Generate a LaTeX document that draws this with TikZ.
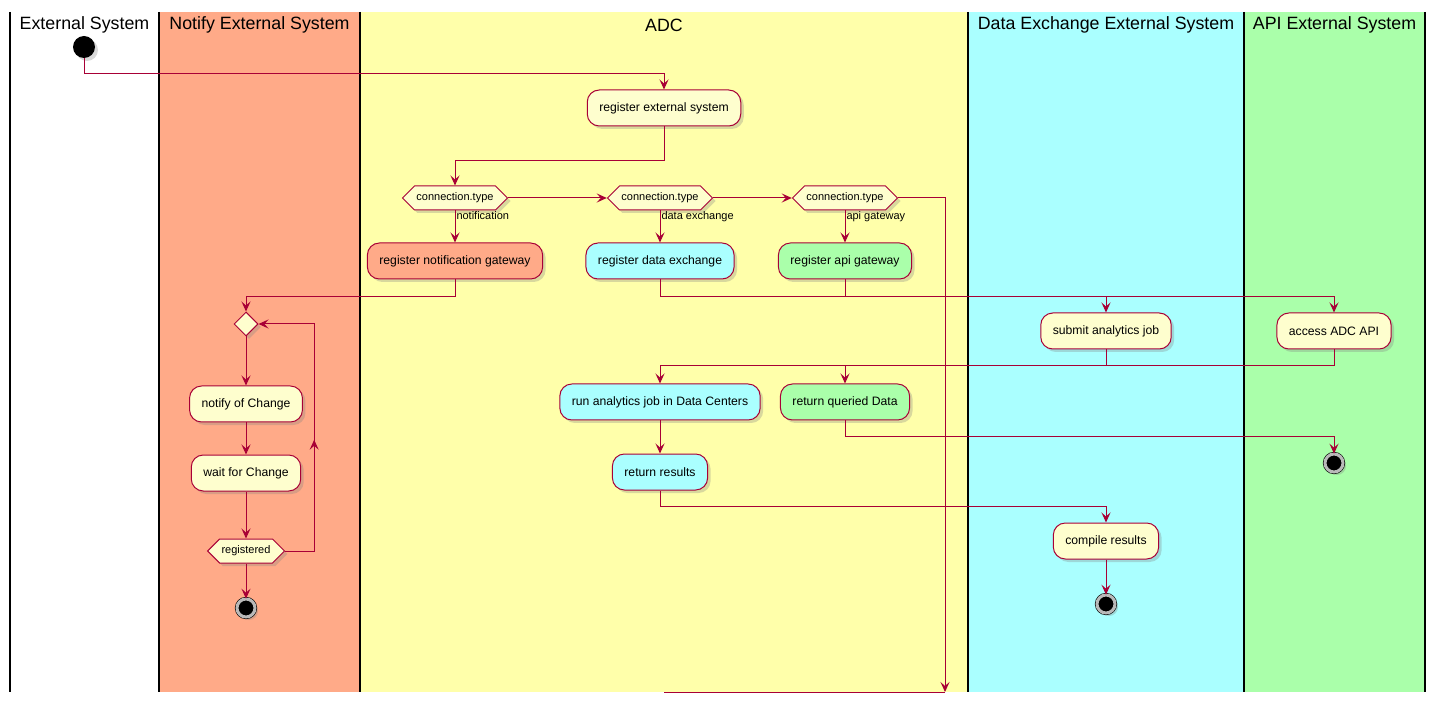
\documentclass[tikz,border=0pt]{standalone}
\usepackage{fontspec}
\setmainfont{Liberation Sans}
\usetikzlibrary{arrows.meta,shapes.geometric,shapes.symbols,shadows,decorations.markings}
\definecolor{umlred}{HTML}{A80036}
\definecolor{umlnode}{HTML}{FEFECE}
\definecolor{lanenotify}{HTML}{FFAA88}
\definecolor{laneadc}{HTML}{FFFFAA}
\definecolor{lanedx}{HTML}{AAFFFF}
\definecolor{laneapi}{HTML}{AAFFAA}

\begin{document}
\begin{tikzpicture}[
  x=1pt, y=-1pt,
  umlshadow/.style={drop shadow={shadow xshift=3pt, shadow yshift=-3pt, opacity=0.3}},
  action/.style={rectangle, rounded corners=12pt, draw=umlred, fill=umlnode, line width=1pt,
    minimum height=36pt, inner xsep=12pt, font=\fontsize{12.2}{14}\selectfont, umlshadow},
  choice/.style={shape=signal, signal to=west and east, signal pointer angle=90, draw=umlred,
    fill=umlnode, line width=1pt, minimum height=24pt, inner xsep=2pt, inner ysep=2pt,
    font=\fontsize{11}{12}\selectfont, umlshadow},
  merge/.style={diamond, draw=umlred, fill=umlnode, line width=1pt, minimum size=24pt,
    inner sep=0pt, umlshadow},
  startnode/.style={circle, fill=black, minimum size=22pt, inner sep=0pt, umlshadow},
  stopnode/.style={circle, draw=black, line width=0.6pt, fill=black, double=gray!55,
    double distance=3pt, minimum size=18pt, inner sep=0pt, umlshadow},
  lanetitle/.style={font=\fontsize{17.8}{20}\selectfont},
  guard/.style={font=\fontsize{11}{12}\selectfont, anchor=north west, inner sep=1pt},
  link/.style={draw=umlred, line width=1pt},
  flow/.style={link, -{Stealth[length=10pt, width=9pt, inset=4pt]}}
]
  \useasboundingbox (0,0) rectangle (1436,703);

  %% Swimlanes
  \fill[lanenotify] (159,12) rectangle (360,692);
  \fill[laneadc] (360,12) rectangle (968,692);
  \fill[lanedx] (968,12) rectangle (1244,692);
  \fill[laneapi] (1244,12) rectangle (1425,692);
  \foreach \lx in {10,159,360,968,1244,1425}
    \draw[line width=2pt] (\lx,12) -- (\lx,692);

  \node[lanetitle] (hext) at (84.5,25) {External System};
  \node[lanetitle] (hnotify) at (259.5,25) {Notify External System};
  \node[lanetitle] (hadc) at (664,25) {ADC};
  \node[lanetitle] (hdx) at (1106,25) {Data Exchange External System};
  \node[lanetitle] (hapi) at (1334.5,25) {API External System};

  %% Nodes
  \node[startnode] (start) at (84,47) {};
  \node[action] (reg) at (664,108) {register external system};

  \node[choice] (typen) at (455,198) {connection.type};
  \node[choice] (typed) at (660,198) {connection.type};
  \node[choice] (typea) at (845,198) {connection.type};
  \coordinate (adcend) at (945,692);
  \coordinate (adcjoin) at (664,692);

  \node[action, fill=lanenotify] (regnotify) at (455,261) {register notification gateway};
  \node[action, fill=lanedx] (regdx) at (660,261) {register data exchange};
  \node[action, fill=laneapi] (regapi) at (845,261) {register api gateway};

  \node[merge] (loop) at (246,324) {};
  \node[action] (notify) at (246,404) {notify of Change};
  \node[action] (wait) at (246,473) {wait for Change};
  \node[choice] (registered) at (246,551) {registered};
  \node[stopnode] (stopnotify) at (246,608) {};

  \node[action] (submit) at (1106,331) {submit analytics job};
  \node[action] (access) at (1334,331) {access ADC API};

  \node[action, fill=lanedx] (runjob) at (660,402) {run analytics job in Data Centers};
  \node[action, fill=laneapi] (query) at (845,402) {return queried Data};
  \node[action, fill=lanedx] (results) at (660,472) {return results};
  \node[stopnode] (stopapi) at (1334,463) {};

  \node[action] (compile) at (1106,541) {compile results};
  \node[stopnode] (stopdx) at (1106,604) {};

  %% Edges
  \draw[flow] (start.south) -- ++(0,15) -| (reg.north);
  \draw[flow] (reg.south) -- ++(0,34) -| (typen.north);
  \draw[flow] (typen.east) -- (typed.west);
  \draw[flow] (typed.east) -- (typea.west);
  \draw[flow] (typea.east) -| (adcend);
  \draw[link] (adcjoin) -- (adcend);

  \draw[flow] (typen.south) -- node[guard, pos=0] {notification} (regnotify.north);
  \draw[flow] (typed.south) -- node[guard, pos=0] {data exchange} (regdx.north);
  \draw[flow] (typea.south) -- node[guard, pos=0] {api gateway} (regapi.north);

  \draw[flow] (regnotify.south) -- ++(0,17) -| (loop.north);
  \draw[flow] (loop.south) -- (notify.north);
  \draw[flow] (notify.south) -- (wait.north);
  \draw[flow] (wait.south) -- (registered.north);
  \draw[flow, postaction={decorate, decoration={markings,
      mark=at position 0.45 with {\arrow{Stealth[length=10pt, width=9pt, inset=4pt]}}}}]
    (registered.east) -- ++(29,0) |- (loop.east);
  \draw[flow] (registered.south) -- (stopnotify.north);

  \draw[flow] (regdx.south) -- ++(0,17) -| (submit.north);
  \draw[flow] (regapi.south) -- ++(0,17) -| (access.north);
  \draw[flow] (submit.south) -- ++(0,16) -| (runjob.north);
  \draw[flow] (access.south) -- ++(0,16) -| (query.north);
  \draw[flow] (runjob.south) -- (results.north);
  \draw[flow] (results.south) -- ++(0,16) -| (compile.north);
  \draw[flow] (query.south) -- ++(0,16) -| (stopapi.north);
  \draw[flow] (compile.south) -- (stopdx.north);
\end{tikzpicture}
\end{document}
